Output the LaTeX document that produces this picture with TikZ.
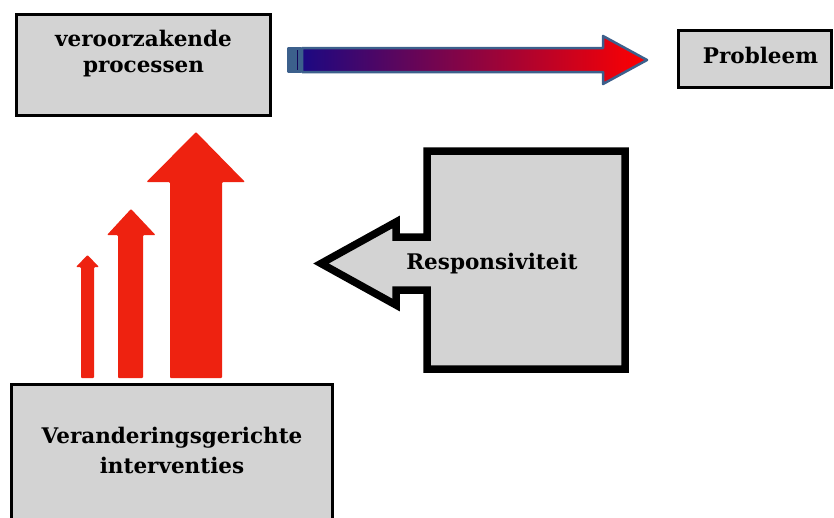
\documentclass[tikz,border=0pt]{standalone}
\usepackage{fontspec}
\setmainfont{DejaVu Serif}
\begin{document}
\begin{tikzpicture}[x=1pt,y=-1pt]
\definecolor{fillColor}{RGB}{255,255,255}
\definecolor{drawColor}{RGB}{0,0,0}
\definecolor{boxColor}{RGB}{211,211,211}
\definecolor{redColor}{RGB}{238,34,16}
\definecolor{edgeColor}{RGB}{60,96,140}
\definecolor{startColor}{RGB}{28,8,130}
\definecolor{midColor}{RGB}{128,0,128}
\definecolor{endColor}{RGB}{255,0,0}
\tikzset{labeltext/.style={text=drawColor,align=center,inner sep=0pt,outer sep=0pt,font=\fontsize{21.5}{26}\selectfont\bfseries}}
\path[use as bounding box,fill=fillColor] (0,0) rectangle (834,517);
\begin{scope}
\path[clip] (0,0) rectangle (834,517);

\path[draw=drawColor,fill=boxColor,line width= 3.0pt] ( 16.5, 14.5) rectangle (270.5,115.5);
\node[labeltext] (oorzaak) at (143.5, 53.5) {veroorzakende\\processen};

\path[draw=drawColor,fill=boxColor,line width= 3.0pt] (678.5, 30.5) rectangle (831.0, 87.5);
\node[labeltext] (probleem) at (760.5, 55.0) {Probleem};

\path[draw=edgeColor,fill=edgeColor,line width= 2.5pt,line join=round] (288.5, 48.0) rectangle (301.0, 72.0);
\path[draw=startColor!70!black,line width= 1.0pt] (297.5, 50.0) -- (297.5, 70.0);
\path[draw=edgeColor,line width= 2.5pt,line join=round,left color=startColor,middle color=midColor,right color=endColor] (302.0, 48.0) -- (603.0, 48.0) -- (603.0, 36.0) -- (647.0, 60.0) -- (603.0, 84.0) -- (603.0, 72.0) -- (302.0, 72.0) -- cycle;

\path[fill=redColor,rounded corners=1pt] ( 81.0,378.0) -- ( 81.0,267.0) -- ( 76.0,267.0) -- ( 87.5,255.0) -- ( 99.0,267.0) -- ( 94.0,267.0) -- ( 94.0,378.0) -- cycle;

\path[fill=redColor,rounded corners=1pt] (118.0,378.0) -- (118.0,235.0) -- (107.0,235.0) -- (131.0,209.0) -- (155.5,235.0) -- (143.0,235.0) -- (143.0,378.0) -- cycle;

\path[fill=redColor,rounded corners=1pt] (170.0,378.0) -- (170.0,182.0) -- (146.5,182.0) -- (196.0,132.0) -- (245.0,182.0) -- (222.0,182.0) -- (222.0,378.0) -- cycle;

\path[draw=drawColor,fill=boxColor,line width= 7.5pt,line join=miter] (427.0,151.0) -- (625.0,151.0) -- (625.0,369.0) -- (427.0,369.0) -- (427.0,290.0) -- (396.0,290.0) -- (396.0,305.0) -- (321.0,263.5) -- (396.0,222.0) -- (396.0,237.0) -- (427.0,237.0) -- cycle;
\node[labeltext] (respons) at (492.0,264.0) {Responsiviteit};

\path[draw=drawColor,fill=boxColor,line width= 3.0pt] ( 11.5,384.5) rectangle (332.5,530.0);
\node[labeltext,font=\fontsize{21.5}{30}\selectfont\bfseries] (interventie) at (172.0,450.0) {Veranderingsgerichte\\interventies};
\end{scope}
\end{tikzpicture}
\end{document}
